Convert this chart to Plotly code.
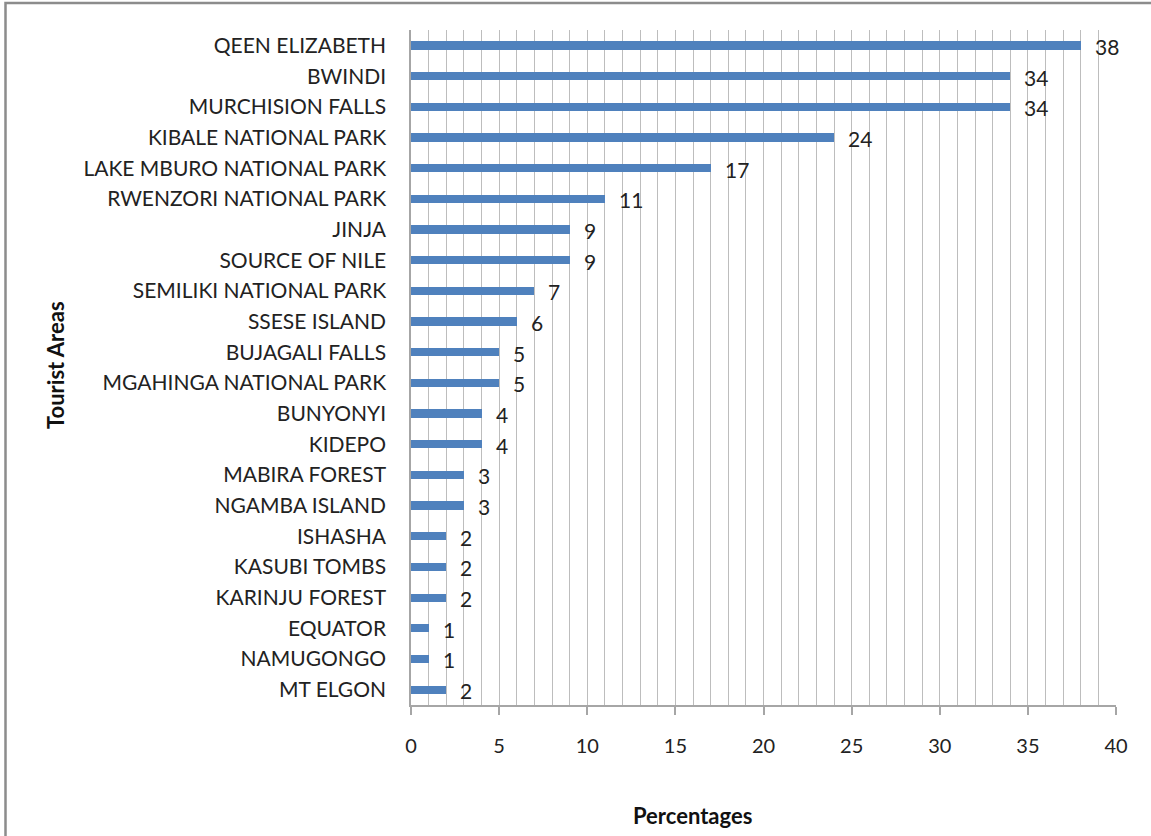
import plotly.graph_objects as go

# Tourist areas and share of respondents (%)
areas = [
    "QEEN ELIZABETH", "BWINDI", "MURCHISION FALLS", "KIBALE NATIONAL PARK",
    "LAKE MBURO NATIONAL PARK", "RWENZORI NATIONAL PARK", "JINJA", "SOURCE OF NILE",
    "SEMILIKI NATIONAL PARK", "SSESE ISLAND", "BUJAGALI FALLS", "MGAHINGA NATIONAL PARK",
    "BUNYONYI", "KIDEPO", "MABIRA FOREST", "NGAMBA ISLAND", "ISHASHA", "KASUBI TOMBS",
    "KARINJU FOREST", "EQUATOR", "NAMUGONGO", "MT ELGON",
]
percentages = [38, 34, 34, 24, 17, 11, 9, 9, 7, 6, 5, 5, 4, 4, 3, 3, 2, 2, 2, 1, 1, 2]

x_ticks = [0, 5, 10, 15, 20, 25, 30, 35, 40]

FONT = "Lato"
W, H = 1151, 836
L, R, T, B = 411, 35, 30, 131

fig = go.Figure()
fig.add_trace(go.Bar(
    x=percentages, y=areas, orientation="h",
    marker=dict(color="#4f81bd", line=dict(width=0)),
    width=0.27,
))

# value labels to the right of each bar
for a, v in zip(areas, percentages):
    fig.add_annotation(x=v, y=a, text=str(v), showarrow=False,
                       xanchor="left", yanchor="middle", xshift=12, yshift=-1,
                       font=dict(family=FONT, size=21, color="#222"))

# axis titles
fig.add_annotation(text="<b>Percentages</b>", xref="paper", yref="paper",
                   x=(692 - L) / (W - L - R), y=-(815 - (H - B)) / (H - T - B),
                   showarrow=False, xanchor="center", yanchor="middle",
                   font=dict(family=FONT, size=22, color="#111"))
fig.add_annotation(text="<b>Tourist Areas</b>", xref="paper", yref="paper",
                   x=(55 - L) / (W - L - R), y=((H - B) - 365) / (H - T - B),
                   showarrow=False, textangle=-90, xanchor="center", yanchor="middle",
                   font=dict(family=FONT, size=22, color="#111"))

# outer chart frame
fig.add_shape(type="rect", xref="paper", yref="paper",
              x0=(5.5 - L) / (W - L - R), x1=(W + 10 - L) / (W - L - R),
              y0=((H - B) - (H + 10)) / (H - T - B), y1=((H - B) - 3) / (H - T - B),
              line=dict(color="#8c8c8c", width=2.5), layer="below")

fig.update_layout(
    width=W, height=H,
    margin=dict(l=L, r=R, t=T, b=B),
    paper_bgcolor="white", plot_bgcolor="white",
    showlegend=False,
    bargap=0.0,
    font=dict(family=FONT, size=18, color="#222"),
    xaxis=dict(
        range=[0, 40], tickvals=x_ticks, ticktext=[str(t) for t in x_ticks],
        ticks="outside", ticklen=8, tickcolor="#a6a6a6", tickwidth=1.5,
        showline=True, linecolor="#a6a6a6", linewidth=1.5,
        showgrid=True, gridcolor="#bdbdbd", gridwidth=1,
        minor=dict(dtick=1, showgrid=True, gridcolor="#bdbdbd", gridwidth=1),
        ticklabelstandoff=14,
        tickfont=dict(family=FONT, size=20, color="#222"),
        zeroline=False, fixedrange=True,
    ),
    yaxis=dict(
        categoryorder="array", categoryarray=areas, autorange="reversed",
        showline=True, linecolor="#a6a6a6", linewidth=1.5,
        ticks="", showgrid=False,
        ticklabelstandoff=19,
        tickfont=dict(family=FONT, size=21, color="#222"),
        fixedrange=True,
    ),
)

fig.write_html("out.html")
